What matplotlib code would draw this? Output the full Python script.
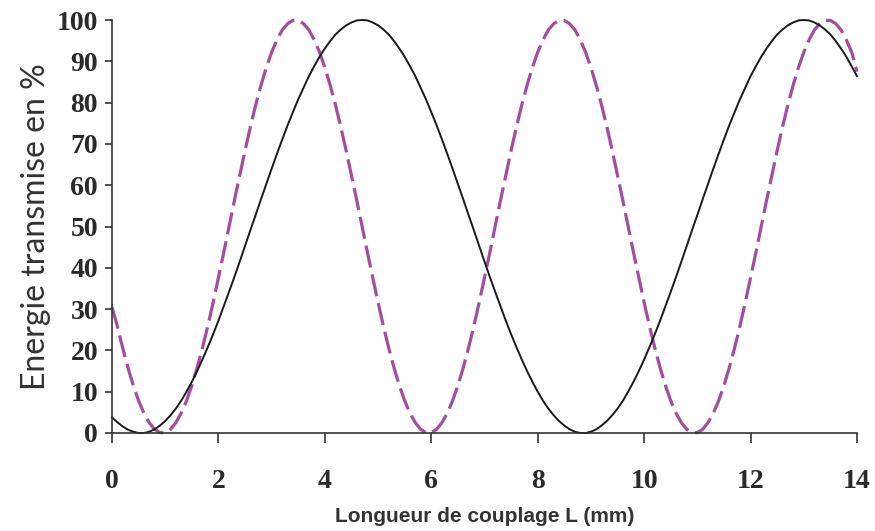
import matplotlib
matplotlib.use("Agg")
import matplotlib.pyplot as plt
import numpy as np

# Longueur de couplage L (mm), one reading every 0.1 mm
longueur = np.linspace(0, 14, 141)

# black curve (solid)
energie_noire = [
    3.8, 2.6, 1.6, 0.8, 0.3, 0.0,
    0.0, 0.3, 0.9, 1.8, 2.9, 4.3, 5.9, 7.8, 10.0, 12.4,
    15.0, 17.8, 20.8, 23.9, 27.2, 30.7, 34.2, 37.8, 41.5, 45.3,
    49.1, 52.8, 56.6, 60.3, 64.0, 67.6, 71.1, 74.5, 77.7, 80.8,
    83.6, 86.4, 88.8, 91.1, 93.1, 94.9, 96.5, 97.7, 98.7, 99.4,
    99.9, 100.0,
    99.9, 99.4, 98.7, 97.7, 96.5, 94.9, 93.1, 91.1, 88.8, 86.4,
    83.6, 80.8, 77.7, 74.5, 71.1, 67.6, 64.0, 60.3, 56.6, 52.8,
    49.1, 45.3, 41.5, 37.8, 34.2, 30.7, 27.2, 23.9, 20.8, 17.8,
    15.0, 12.4, 10.0, 7.8, 5.9, 4.3, 2.9, 1.8, 0.9, 0.3, 0.0,
    0.0, 0.3, 0.9, 1.8, 2.9, 4.3, 5.9, 7.8, 10.0, 12.4,
    15.0, 17.8, 20.8, 23.9, 27.2, 30.7, 34.2, 37.8, 41.5, 45.3,
    49.1, 52.8, 56.6, 60.3, 64.0, 67.6, 71.1, 74.5, 77.7, 80.8,
    83.6, 86.4, 88.8, 91.1, 93.1, 94.9, 96.5, 97.7, 98.7, 99.4,
    99.9, 100.0,
    99.9, 99.4, 98.7, 97.7, 96.5, 94.9, 93.1, 91.1, 88.8, 86.4,
]

# purple curve (dashed)
energie_violette = [
    30.5, 25.9, 20.6, 15.8, 11.5, 7.8, 4.8, 2.5, 0.9, 0.1,
    0.1, 0.9, 2.5, 4.8, 7.8, 11.5, 15.8, 20.6, 25.9, 31.6,
    37.6, 43.7, 50.0, 56.3, 62.4, 68.4, 74.1, 79.4, 84.2, 88.5,
    92.2, 95.2, 97.6, 99.1, 99.9,
    99.9, 99.1, 97.6, 95.2, 92.2, 88.5, 84.2, 79.4, 74.1, 68.4,
    62.4, 56.3, 50.0, 43.7, 37.6, 31.6, 25.9, 20.6, 15.8, 11.5,
    7.8, 4.8, 2.5, 0.9, 0.1,
    0.1, 0.9, 2.5, 4.8, 7.8, 11.5, 15.8, 20.6, 25.9, 31.6,
    37.6, 43.7, 50.0, 56.3, 62.4, 68.4, 74.1, 79.4, 84.2, 88.5,
    92.2, 95.2, 97.6, 99.1, 99.9,
    99.9, 99.1, 97.6, 95.2, 92.2, 88.5, 84.2, 79.4, 74.1, 68.4,
    62.4, 56.3, 50.0, 43.7, 37.6, 31.6, 25.9, 20.6, 15.8, 11.5,
    7.8, 4.8, 2.5, 0.9, 0.1,
    0.1, 0.9, 2.5, 4.8, 7.8, 11.5, 15.8, 20.6, 25.9, 31.6,
    37.6, 43.7, 50.0, 56.3, 62.4, 68.4, 74.1, 79.4, 84.2, 88.5,
    92.2, 95.2, 97.6, 99.1, 99.9,
    99.9, 99.1, 97.6, 95.2, 92.2, 87.5,
]

x_ticks = [0, 2, 4, 6, 8, 10, 12, 14]
y_ticks = [0, 10, 20, 30, 40, 50, 60, 70, 80, 90, 100]

fig = plt.figure(figsize=(8.75, 5.31), dpi=100)
ax = fig.add_axes([112 / 875, 1 - 433 / 531, 745 / 875, 413 / 531])

ax.plot(longueur, energie_violette, color='#a24e9e', lw=2.3,
        dashes=(7, 2.2), clip_on=False)
ax.plot(longueur, energie_noire, color='#1a1a1a', lw=1.4, clip_on=False)

ax.set_xlim(0, 14)
ax.set_ylim(0, 100)
ax.set_xticks(x_ticks)
ax.set_yticks(y_ticks)

for side in ['top', 'right']:
    ax.spines[side].set_visible(False)
for side in ['left', 'bottom']:
    ax.spines[side].set_color('#333333')
    ax.spines[side].set_linewidth(1.2)

ax.tick_params(direction='out', width=1.2, colors='#333333')
ax.tick_params(axis='x', length=7, pad=19)
ax.tick_params(axis='y', length=5, pad=5)
for lab in ax.get_xticklabels() + ax.get_yticklabels():
    lab.set_family('Liberation Serif')
    lab.set_fontweight('bold')
    lab.set_fontsize(20)
    lab.set_color('#2a2a2a')

ax.set_ylabel('Energie transmise en %', family='Lato', fontsize=23,
              color='#333333', labelpad=4)
ax.set_xlabel('Longueur de couplage L (mm)', family='Liberation Sans',
              fontweight='bold', fontsize=15, color='#333333', labelpad=9)

fig.savefig('out.png', dpi=100)
